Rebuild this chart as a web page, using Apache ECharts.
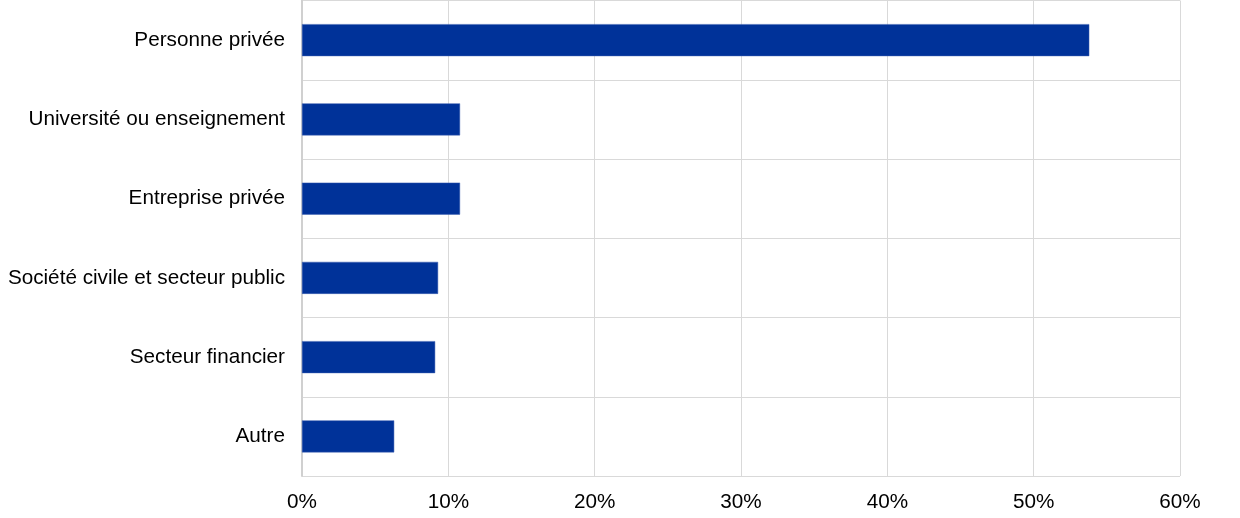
<!DOCTYPE html>
<html><head><meta charset="utf-8">
<script src="https://cdn.jsdelivr.net/npm/echarts@6/dist/echarts.min.js"></script>
<style>html,body{margin:0;padding:0;background:#fff}#c{width:1240px;height:518px}</style>
</head><body><div id="c"></div>
<script>
const categories = ["Personne privée","Université ou enseignement","Entreprise privée","Société civile et secteur public","Secteur financier","Autre"];
const values = [53.8, 10.8, 10.8, 9.3, 9.1, 6.3];
const xTicks = {min: 0, max: 60, interval: 10};

const chart = echarts.init(document.getElementById('c'));
chart.setOption({
  animation: false,
  grid: {left: 302, right: 60, top: 0.5, bottom: 42, containLabel: false},
  xAxis: {
    type: 'value', min: xTicks.min, max: xTicks.max, interval: xTicks.interval,
    axisLine: {show: false}, axisTick: {show: false},
    splitLine: {show: true, lineStyle: {color: '#d9d9d9', width: 1}},
    axisLabel: {formatter: '{value}%', color: '#000', fontFamily: 'Liberation Sans, Arial', fontSize: 20.7, margin: 16}
  },
  yAxis: {
    type: 'category', data: categories, inverse: true,
    axisLine: {show: true, lineStyle: {color: '#d0d0d0', width: 2}},
    axisTick: {show: false},
    splitLine: {show: true, lineStyle: {color: '#d9d9d9', width: 1}},
    axisLabel: {color: '#000', fontFamily: 'Liberation Sans, Arial', fontSize: 20.7, margin: 17}
  },
  series: [{
    type: 'bar', data: values, barWidth: 32,
    itemStyle: {color: '#003299', borderColor: '#3a5fb0', borderWidth: 0.5}
  }]
});
</script></body></html>
